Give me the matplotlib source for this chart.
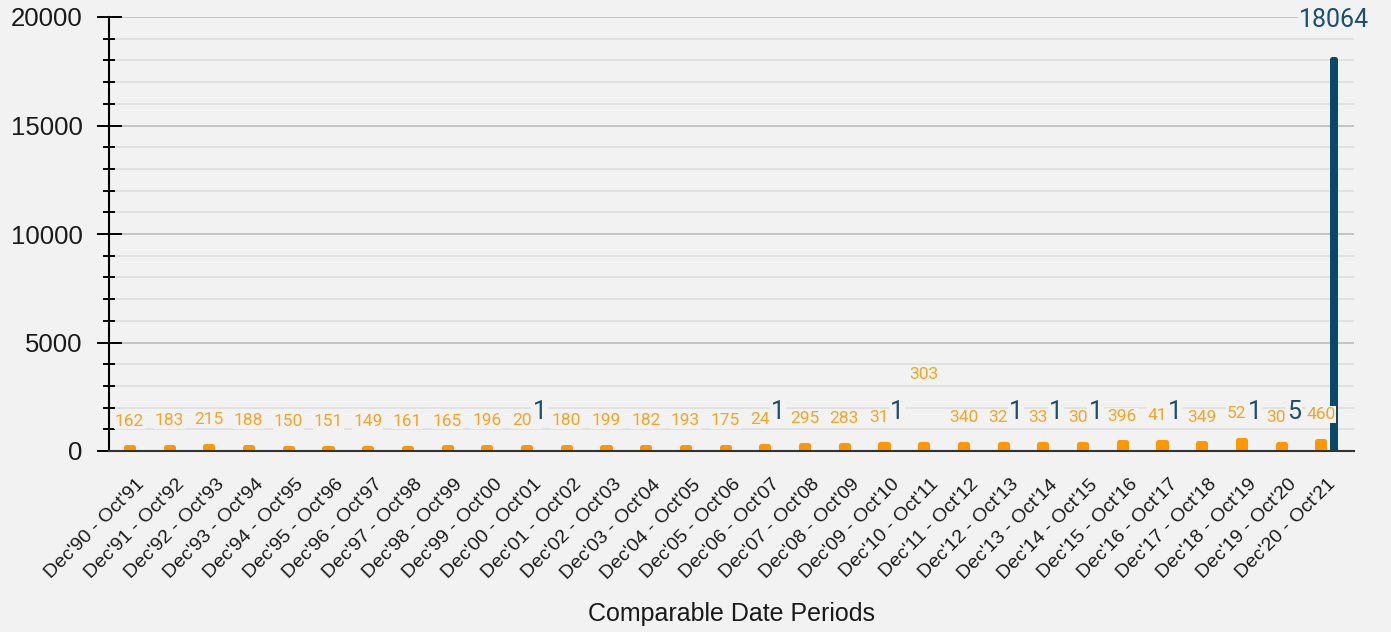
import matplotlib.pyplot as plt
from matplotlib.ticker import MultipleLocator
import numpy as np

plt.rcParams["font.family"] = ["Liberation Sans", "DejaVu Sans"]

periods = ["Dec'90 - Oct'91", "Dec'91 - Oct'92", "Dec'92 - Oct'93", "Dec'93 - Oct'94",
           "Dec'94 - Oct'95", "Dec'95 - Oct'96", "Dec'96 - Oct'97", "Dec'97 - Oct'98",
           "Dec'98 - Oct'99", "Dec'99 - Oct'00", "Dec'00 - Oct'01", "Dec'01 - Oct'02",
           "Dec'02 - Oct'03", "Dec'03 - Oct'04", "Dec'04 - Oct'05", "Dec'05 - Oct'06",
           "Dec'06 - Oct'07", "Dec'07 - Oct'08", "Dec'08 - Oct'09", "Dec'09 - Oct'10",
           "Dec'10 - Oct'11", "Dec'11 - Oct'12", "Dec'12 - Oct'13", "Dec'13 - Oct'14",
           "Dec'14 - Oct'15", "Dec'15 - Oct'16", "Dec'16 - Oct'17", "Dec'17 - Oct'18",
           "Dec'18 - Oct'19", "Dec'19 - Oct'20", "Dec'20 - Oct'21"]

# orange series
orange_vals = [162, 183, 215, 188, 150, 151, 149, 161, 165, 196,
               200, 180, 199, 182, 193, 175, 249, 295, 283, 315,
               303, 340, 322, 330, 307, 396, 411, 349, 521, 305, 460]

# dark blue series (None = no value)
blue_vals = [None, None, None, None, None, None, None, None, None, None,
             1, None, None, None, None, None, 1, None, None, 1,
             None, None, 1, 1, 1, None, 1, None, 1, 5, 18064]

bg = '#f2f2f2'
orange = '#ff9800'
orange_txt = '#f6a425'
blue = '#0a4868'
blue_txt = '#1b4f6e'

fig = plt.figure(figsize=(13.91, 6.32), dpi=100, facecolor=bg)
ax = fig.add_axes([109 / 1391, 1 - 451 / 632, (1354 - 109) / 1391, (451 - 17) / 632])
ax.set_facecolor(bg)

x = np.arange(len(periods))
off = 0.164

ax.bar(x - off, orange_vals, width=0.18, color=orange, edgecolor=orange,
       linewidth=3.6, joinstyle='round', zorder=2)

bx = np.array([i for i, v in enumerate(blue_vals) if v is not None])
bv = [v for v in blue_vals if v is not None]
blw = [3.6 if v > 100 else 0 for v in bv]  # tiny bars vanish in the original
ax.bar(bx + off, bv, width=0.08, color=blue, edgecolor=blue,
       linewidth=blw, joinstyle='round', zorder=2)

# value labels
lifted = {20: 50}
for i, v in enumerate(orange_vals):
    ax.annotate(str(v), (x[i] - off, v), xytext=(0, lifted.get(i, 19)),
                textcoords='offset points', ha='center', va='center',
                fontsize=12.5, family='Roboto', color=orange_txt, zorder=4,
                bbox=dict(boxstyle='square,pad=0.05', fc=bg, ec='none'))
for i, v in zip(bx, bv):
    ax.annotate(str(v), (i + off, v), xytext=(0, 28),
                textcoords='offset points', ha='center', va='center',
                fontsize=18, family='Roboto', color=blue_txt, zorder=5,
                bbox=dict(boxstyle='square,pad=0.05', fc=bg, ec='none'))

ax.set_xlim(-0.68, 30.67)
ax.set_ylim(0, 20000)
ax.set_yticks(range(0, 20001, 5000))
ax.yaxis.set_minor_locator(MultipleLocator(1000))
ax.set_axisbelow(True)
ax.grid(which='major', axis='y', color='#bdbdbd', lw=1.2)
ax.grid(which='minor', axis='y', color='#dedede', lw=1.2)

ax.tick_params(axis='y', which='major', direction='inout', length=18, width=1.4,
               labelsize=18.5, pad=10, labelcolor='#1a1a1a')
ax.tick_params(axis='y', which='minor', direction='inout', length=9, width=1.4)

ax.set_xticks(x, periods, rotation=45, ha='right', rotation_mode='anchor', fontsize=14)
ax.tick_params(axis='x', length=0, pad=18, labelcolor='#1a1a1a')

for s in ['top', 'right']:
    ax.spines[s].set_visible(False)
ax.spines['left'].set_linewidth(1.5)
ax.spines['bottom'].set_linewidth(1.5)
ax.spines['bottom'].set_color('#333333')

ax.set_xlabel('Comparable Date Periods', fontsize=18, color='#1a1a1a', va='center')
ax.xaxis.set_label_coords(0.5, -0.3756)

fig.savefig('out.png', dpi=100, facecolor=bg)
